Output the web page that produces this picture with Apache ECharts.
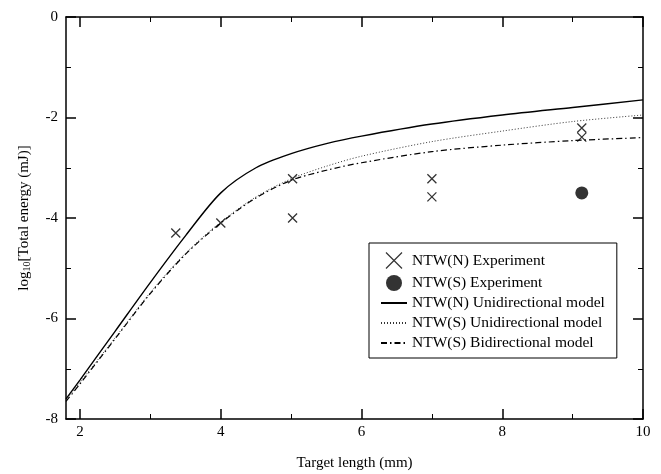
<!DOCTYPE html>
<html><head><meta charset="utf-8">
<script src="https://cdn.jsdelivr.net/npm/echarts@6/dist/echarts.min.js"></script>
<style>html,body{margin:0;padding:0;background:#fff}#c{width:661px;height:474px}</style>
</head><body><div id="c"></div>
<script>
// Tick labels
const xTickLabels = [2, 4, 6, 8, 10];
const xMinorTicks = [3, 5, 7, 9];
// Experimental data
const ntwNExp = [[3.36, -4.30], [4.0, -4.10], [5.02, -3.22], [5.02, -4.0], [7.0, -3.22], [7.0, -3.58], [9.13, -2.21], [9.13, -2.39]];
const ntwSExp = [[9.13, -3.50]];
// Model curves
const modelX   = [1.8, 2.0, 2.5, 3.0, 3.5, 4.0, 4.5, 5.0, 5.5, 6.0, 7.0, 8.0, 9.0, 10.0];
const nUniY    = [-7.6, -7.22, -6.25, -5.28, -4.35, -3.5, -3.0, -2.72, -2.52, -2.37, -2.13, -1.95, -1.8, -1.65];
const sUniY    = [-7.62, -7.27, -6.38, -5.48, -4.7, -4.08, -3.58, -3.22, -2.97, -2.77, -2.48, -2.27, -2.08, -1.95];
const sBiY     = [-7.65, -7.3, -6.4, -5.5, -4.72, -4.1, -3.6, -3.25, -3.05, -2.9, -2.68, -2.55, -2.46, -2.4];

const zip = (xs, ys) => xs.map((x, i) => [x, ys[i]]);
const FONT = 'Liberation Serif';
const cross = 'path://M0,0L10,10M10,0L0,10';
const G = {left: 66, right: 18, top: 17, bottom: 55, containLabel: false, outerBoundsMode: 'none'};

const chart = echarts.init(document.getElementById('c'));
chart.setOption({
  animation: false,
  backgroundColor: '#fff',
  textStyle: {fontFamily: FONT, color: '#000'},
  grid: [Object.assign({}, G), Object.assign({}, G)],
  xAxis: [
    {gridIndex: 0, type: 'value', min: 1.8, max: 10, position: 'bottom',
     name: 'Target length (mm)', nameLocation: 'middle', nameGap: 37,
     nameTextStyle: {fontFamily: FONT, fontSize: 15, color: '#000'},
     axisLine: {show: true, onZero: false, lineStyle: {color: '#000', width: 1.5}},
     axisTick: {show: true, inside: true, length: 10, customValues: xTickLabels, lineStyle: {color: '#000', width: 1.5}},
     axisLabel: {show: true, customValues: xTickLabels, fontFamily: FONT, fontSize: 15, color: '#000', margin: 6},
     splitLine: {show: false}},
    {gridIndex: 1, type: 'value', min: 1.8, max: 10, position: 'bottom',
     axisLine: {show: false, onZero: false},
     axisTick: {show: true, inside: true, length: 5, customValues: xMinorTicks, lineStyle: {color: '#000', width: 1}},
     axisLabel: {show: false}, splitLine: {show: false}},
    {gridIndex: 0, type: 'value', min: 1.8, max: 10, position: 'top',
     axisLine: {show: true, onZero: false, lineStyle: {color: '#000', width: 1.5}},
     axisTick: {show: true, inside: true, length: 10, customValues: xTickLabels, lineStyle: {color: '#000', width: 1.5}},
     axisLabel: {show: false}, splitLine: {show: false}},
    {gridIndex: 1, type: 'value', min: 1.8, max: 10, position: 'top',
     axisLine: {show: false, onZero: false},
     axisTick: {show: true, inside: true, length: 5, customValues: xMinorTicks, lineStyle: {color: '#000', width: 1}},
     axisLabel: {show: false}, splitLine: {show: false}}
  ],
  yAxis: [
    {gridIndex: 0, type: 'value', min: -8, max: 0, interval: 2, position: 'left',
     name: '{a|log}{b|10}{a|[Total energy (mJ)]}', nameLocation: 'middle', nameGap: 33, nameRotate: 90,
     nameTextStyle: {rich: {a: {fontFamily: FONT, fontSize: 15, color: '#000', lineHeight: 18},
                            b: {fontFamily: FONT, fontSize: 10, color: '#000', lineHeight: 18, padding: [7, 0, 0, 0]}}},
     axisLine: {show: true, onZero: false, lineStyle: {color: '#000', width: 1.5}},
     axisTick: {show: true, inside: true, length: 10, lineStyle: {color: '#000', width: 1.5}},
     minorTick: {show: true, splitNumber: 2, length: 5, lineStyle: {color: '#000', width: 1}},
     axisLabel: {show: true, fontFamily: FONT, fontSize: 15, color: '#000', margin: 8},
     splitLine: {show: false}, minorSplitLine: {show: false}},
    {gridIndex: 0, type: 'value', min: -8, max: 0, interval: 2, position: 'right',
     axisLine: {show: true, onZero: false, lineStyle: {color: '#000', width: 1.5}},
     axisTick: {show: true, inside: true, length: 10, lineStyle: {color: '#000', width: 1.5}},
     minorTick: {show: true, splitNumber: 2, length: 5, lineStyle: {color: '#000', width: 1}},
     axisLabel: {show: false}, splitLine: {show: false}},
    {gridIndex: 1, type: 'value', min: -8, max: 0, show: false}
  ],
  legend: {
    orient: 'vertical', left: 369, top: 243,
    backgroundColor: '#fff', borderColor: '#000', borderWidth: 1,
    padding: [7, 12, 7, 11], itemGap: 4, itemWidth: 26, itemHeight: 16,
    textStyle: {fontFamily: FONT, fontSize: 15.5, color: '#000'},
    data: [
      {name: 'NTW(N) Experiment', icon: cross, itemStyle: {color: 'none', borderColor: '#000', borderWidth: 1.2}},
      {name: 'NTW(S) Experiment', icon: 'circle'},
      {name: 'NTW(N) Unidirectional model', itemStyle: {opacity: 0}},
      {name: 'NTW(S) Unidirectional model', itemStyle: {opacity: 0}},
      {name: 'NTW(S) Bidirectional model', itemStyle: {opacity: 0}}
    ]
  },
  series: [
    {name: 'NTW(N) Unidirectional model', type: 'line', xAxisIndex: 0, yAxisIndex: 0, data: zip(modelX, nUniY),
     symbol: 'none', smooth: 0.3, lineStyle: {color: '#000', width: 1.4}, itemStyle: {color: '#000'}},
    {name: 'NTW(S) Unidirectional model', type: 'line', xAxisIndex: 0, yAxisIndex: 0, data: zip(modelX, sUniY),
     symbol: 'none', smooth: 0.3, lineStyle: {color: '#333', width: 1, type: [1, 2]}, itemStyle: {color: '#333'}},
    {name: 'NTW(S) Bidirectional model', type: 'line', xAxisIndex: 0, yAxisIndex: 0, data: zip(modelX, sBiY),
     symbol: 'none', smooth: 0.3, lineStyle: {color: '#000', width: 1.2, type: [6, 3, 1.5, 3]}, itemStyle: {color: '#000'}},
    {name: 'NTW(N) Experiment', type: 'scatter', xAxisIndex: 0, yAxisIndex: 0, data: ntwNExp,
     symbol: cross, symbolSize: 9, itemStyle: {color: 'none', borderColor: '#000', borderWidth: 1.3}},
    {name: 'NTW(S) Experiment', type: 'scatter', xAxisIndex: 0, yAxisIndex: 0, data: ntwSExp,
     symbol: 'circle', symbolSize: 13, itemStyle: {color: '#000'}}
  ]
});
</script></body></html>
